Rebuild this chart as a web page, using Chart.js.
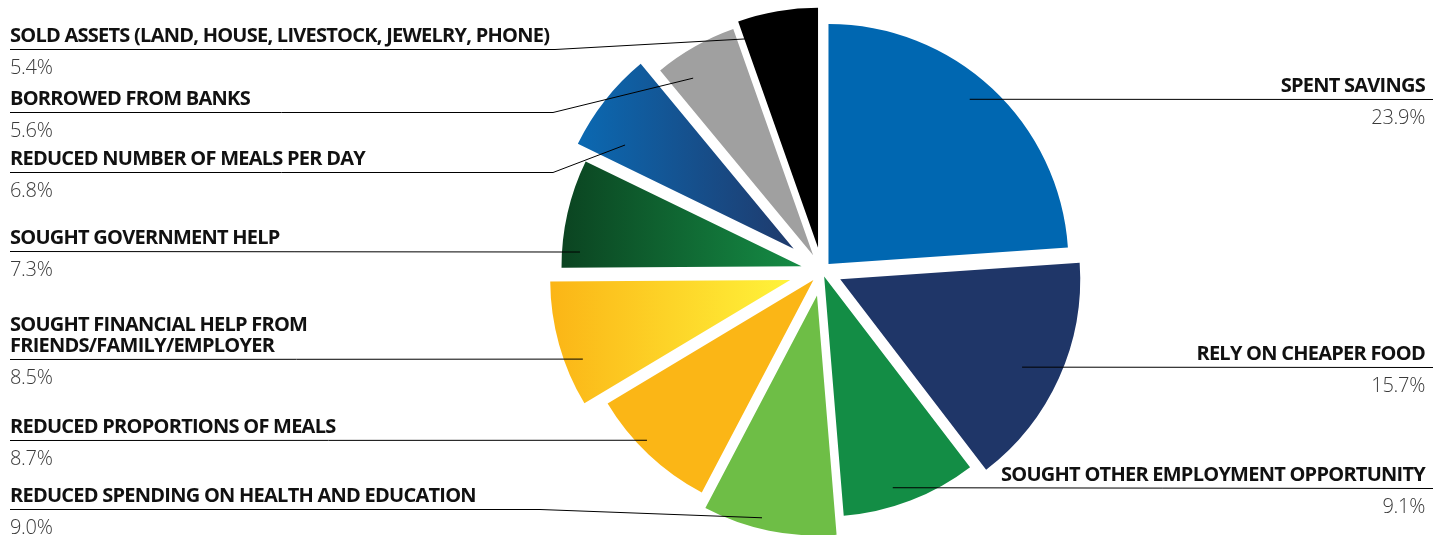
<!DOCTYPE html>
<html>
<head>
<meta charset="utf-8">
<script src="https://cdn.jsdelivr.net/npm/chart.js@4.4.0/dist/chart.umd.min.js"></script>
<style>
    html, body { margin: 0; padding: 0; background: #fff; }
    #copingChart { display: block; }
</style>
</head>
<body>
<canvas id="copingChart" width="1442" height="535"></canvas>
<script>
const categories = [
    'SPENT SAVINGS',
    'RELY ON CHEAPER FOOD',
    'SOUGHT OTHER EMPLOYMENT OPPORTUNITY',
    'REDUCED SPENDING ON HEALTH AND EDUCATION',
    'REDUCED PROPORTIONS OF MEALS',
    'SOUGHT FINANCIAL HELP FROM\nFRIENDS/FAMILY/EMPLOYER',
    'SOUGHT GOVERNMENT HELP',
    'REDUCED NUMBER OF MEALS PER DAY',
    'BORROWED FROM BANKS',
    'SOLD ASSETS (LAND, HOUSE, LIVESTOCK, JEWELRY, PHONE)'
];
const shares = [23.9, 15.7, 9.1, 9.0, 8.7, 8.5, 7.3, 6.8, 5.6, 5.4];

// flat fills, or [left, right] pairs for a horizontal gradient
const sliceColors = [
    '#0067b1', '#1f3668', '#138d45', '#6ebe46', '#fbb616',
    ['#fbb516', '#fff33a'], ['#0b4421', '#158c45'], ['#0b69b2', '#1f3a6c'],
    '#a0a0a0', '#000000'
];
// how far each slice is pulled away from the centre (px)
const explode = [9.5, 20, 6, 25, 12.5, 33, 21, 36, 18, 23.5];

// side, y of the rule under the name, x where the rule bends (null = straight),
// leader end inside the slice: degrees clockwise from 12 o'clock and distance from the apex
const labelSpots = [
    { side: 'right', lineY: 99,  bendX: null, angle: 40.6,  reach: 217 },
    { side: 'right', lineY: 367, bendX: null, angle: 115.8, reach: 202 },
    { side: 'right', lineY: 488, bendX: null, angle: 162.0, reach: 222 },
    { side: 'left',  lineY: 509, bendX: 540,  angle: 193.9, reach: 229 },
    { side: 'left',  lineY: 440, bendX: null, angle: 226.1, reach: 231 },
    { side: 'left',  lineY: 359, bendX: null, angle: 249.1, reach: 222 },
    { side: 'left',  lineY: 251, bendX: null, angle: 273.7, reach: 222 },
    { side: 'left',  lineY: 172, bendX: 553,  angle: 301.6, reach: 198 },
    { side: 'left',  lineY: 112, bendX: 553,  angle: 325.9, reach: 214 },
    { side: 'left',  lineY: 49,  bendX: 555,  angle: 341.0, reach: 221 }
];

const RADIUS = 240;
const LEFT_X = 10;
const RIGHT_X = 1425;

function pieCentre(chart) {
    const a = chart.chartArea;
    return { x: (a.left + a.right) / 2, y: (a.top + a.bottom) / 2 };
}

function sliceFill(context) {
    const col = sliceColors[context.dataIndex];
    if (!Array.isArray(col)) return col;
    const chart = context.chart;
    if (!chart.chartArea) return col[0];
    const total = shares.reduce((a, b) => a + b, 0);
    let before = 0;
    for (let k = 0; k < context.dataIndex; k++) before += shares[k];
    const start = -Math.PI / 2 + before / total * 2 * Math.PI;
    const end = start + shares[context.dataIndex] / total * 2 * Math.PI;
    const mid = (start + end) / 2;
    const c = pieCentre(chart);
    const ox = c.x + Math.cos(mid) * explode[context.dataIndex];
    let minX = ox, maxX = ox;
    for (let t = 0; t <= 24; t++) {
        const x = ox + Math.cos(start + (end - start) * t / 24) * RADIUS;
        minX = Math.min(minX, x);
        maxX = Math.max(maxX, x);
    }
    const g = chart.ctx.createLinearGradient(minX, 0, maxX, 0);
    g.addColorStop(0, col[0]);
    g.addColorStop(1, col[1]);
    return g;
}

// push each arc out along its own bisector
const explodePlugin = {
    id: 'explodeSlices',
    beforeDatasetsDraw(chart) {
        const c = pieCentre(chart);
        chart.getDatasetMeta(0).data.forEach((arc, i) => {
            const mid = (arc.startAngle + arc.endAngle) / 2;
            arc.x = c.x + Math.cos(mid) * explode[i];
            arc.y = c.y + Math.sin(mid) * explode[i];
        });
    }
};

const calloutPlugin = {
    id: 'callouts',
    afterDraw(chart) {
        const ctx = chart.ctx;
        const arcs = chart.getDatasetMeta(0).data;
        ctx.save();
        labelSpots.forEach((spot, i) => {
            const arc = arcs[i];
            const rad = spot.angle * Math.PI / 180;
            const ex = arc.x + Math.sin(rad) * spot.reach;
            const ey = arc.y - Math.cos(rad) * spot.reach;

            ctx.strokeStyle = '#000';
            ctx.lineWidth = 1;
            ctx.beginPath();
            if (spot.side === 'left') {
                ctx.moveTo(LEFT_X, spot.lineY + 0.5);
                if (spot.bendX !== null) ctx.lineTo(spot.bendX, spot.lineY + 0.5);
                ctx.lineTo(ex, ey);
            } else {
                ctx.moveTo(ex, ey);
                ctx.lineTo(RIGHT_X + 8, spot.lineY + 0.5);
            }
            ctx.stroke();

            const tx = spot.side === 'left' ? LEFT_X : RIGHT_X;
            ctx.textAlign = spot.side;
            ctx.textBaseline = 'alphabetic';
            ctx.fillStyle = '#111';
            ctx.font = '700 20px "Open Sans"';
            ctx.letterSpacing = '-0.75px';
            const lines = categories[i].split('\n');
            lines.forEach((ln, k) => {
                ctx.fillText(ln, tx, spot.lineY - 7 - (lines.length - 1 - k) * 21);
            });
            ctx.fillStyle = '#3a3a3a';
            ctx.font = '300 20px "Open Sans"';
            ctx.letterSpacing = '-0.3px';
            ctx.fillText(shares[i].toFixed(1) + '%', tx, spot.lineY + 25);
        });
        ctx.restore();
    }
};

new Chart(document.getElementById('copingChart'), {
    type: 'pie',
    data: {
        labels: categories,
        datasets: [{
            data: shares,
            backgroundColor: sliceFill,
            borderWidth: 0,
            radius: RADIUS,
            clip: false
        }]
    },
    options: {
        responsive: false,
        animation: false,
        events: [],
        layout: { padding: { left: 202, top: 7 } },
        plugins: {
            legend: { display: false },
            tooltip: { enabled: false }
        }
    },
    plugins: [explodePlugin, calloutPlugin]
});
</script>
</body>
</html>
